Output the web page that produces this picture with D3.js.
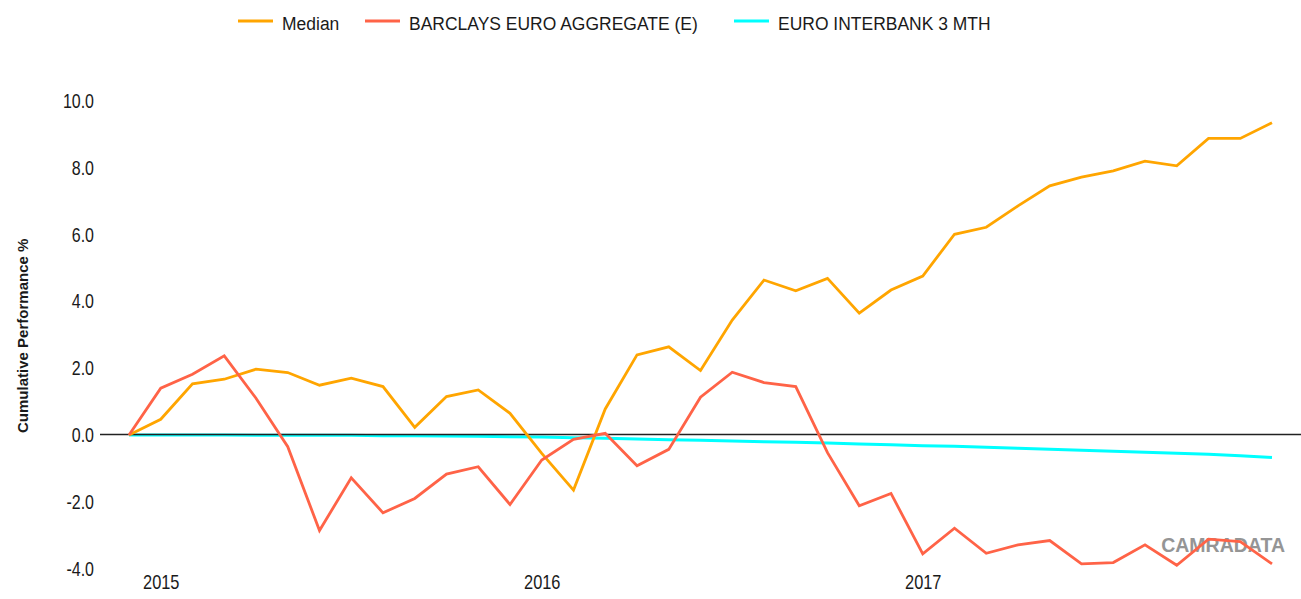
<!DOCTYPE html>
<html>
<head>
<meta charset="utf-8">
<script src="https://cdn.jsdelivr.net/npm/d3@7"></script>
<style>
  html, body { margin: 0; padding: 0; background: #fff; }
  svg { display: block; }
  text { font-family: "Liberation Sans", Arial, sans-serif; fill: #1a1a1a; }
</style>
</head>
<body>
<svg id="chart" width="1301" height="599"></svg>
<script>
// ---- data ----
const months = [
  "2014-12",
  "2015-01","2015-02","2015-03","2015-04","2015-05","2015-06","2015-07","2015-08","2015-09","2015-10","2015-11","2015-12",
  "2016-01","2016-02","2016-03","2016-04","2016-05","2016-06","2016-07","2016-08","2016-09","2016-10","2016-11","2016-12",
  "2017-01","2017-02","2017-03","2017-04","2017-05","2017-06","2017-07","2017-08","2017-09","2017-10","2017-11","2017-12"
];
const median = [
  0.00,
  0.47, 1.53, 1.67, 1.97, 1.87, 1.49, 1.70, 1.45, 0.23, 1.15, 1.35, 0.65,
  -0.55, -1.65, 0.78, 2.40, 2.64, 1.93, 3.44, 4.64, 4.32, 4.69, 3.65, 4.34,
  4.76, 6.01, 6.22, 6.86, 7.46, 7.72, 7.91, 8.20, 8.06, 8.88, 8.88, 9.35
];
const barclays = [
  0.00,
  1.40, 1.82, 2.37, 1.10, -0.35, -2.86, -1.28, -2.33, -1.90, -1.17, -0.95, -2.08,
  -0.75, -0.13, 0.05, -0.92, -0.43, 1.13, 1.88, 1.57, 1.45, -0.53, -2.12, -1.75,
  -3.56, -2.79, -3.54, -3.29, -3.16, -3.86, -3.82, -3.29, -3.90, -3.12, -3.19, -3.86
];
const euribor = [
  0.00,
  0.00, 0.00, 0.00, -0.01, -0.01, -0.01, -0.01, -0.02, -0.02, -0.03, -0.04, -0.05,
  -0.06, -0.08, -0.10, -0.12, -0.14, -0.16, -0.18, -0.20, -0.22, -0.24, -0.27, -0.29,
  -0.32, -0.34, -0.37, -0.40, -0.43, -0.46, -0.49, -0.52, -0.55, -0.58, -0.62, -0.67
];
const seriesNames = ["Median", "BARCLAYS EURO AGGREGATE (E)", "EURO INTERBANK 3 MTH"];
const seriesColors = ["#FFA500", "#FF6347", "#00FFFF"];
const yTicks = [-4, -2, 0, 2, 4, 6, 8, 10];
const xTickMonths = ["2015-01", "2016-01", "2017-01"];
const xTickLabels = ["2015", "2016", "2017"];
const yTitle = "Cumulative Performance %";
const watermark = "CAMRADATA";

// ---- layout ----
const svg = d3.select("#chart");
const plotLeft = 100, plotRight = 1301;
const x = d3.scalePoint().domain(months).range([129, 1272]);
const y = d3.scaleLinear().domain([-4, 10]).range([568.6, 101]);
const fmt = (d) => d3.format(".1f")(d).replace("\u2212", "-");

// watermark (behind lines)
svg.append("text")
  .attr("x", 1285).attr("y", 552)
  .attr("text-anchor", "end")
  .style("font-size", "19.5px").style("font-weight", "bold")
  .style("fill", "#8a8a8a").style("opacity", 0.9)
  .text(watermark);

// y axis labels
const yAxis = svg.append("g")
  .attr("transform", `translate(${plotLeft},0)`)
  .call(d3.axisLeft(y).tickValues(yTicks).tickFormat(fmt).tickSize(0));
yAxis.select(".domain").remove();
yAxis.selectAll("text")
  .attr("x", 0).attr("dy", null)
  .attr("dominant-baseline", "central")
  .attr("transform", "translate(-6,0) scale(0.82,1)")
  .style("font-size", "19.5px").style("font-family", "Liberation Sans, Arial, sans-serif")
  .style("fill", "#1a1a1a");

// x axis labels
const xAxis = svg.append("g")
  .attr("transform", `translate(0,${y(-4)})`)
  .call(d3.axisBottom(x).tickValues(xTickMonths)
        .tickFormat((d) => xTickLabels[xTickMonths.indexOf(d)]).tickSize(0));
xAxis.select(".domain").remove();
xAxis.selectAll("text")
  .attr("y", 0).attr("dy", null)
  .attr("dominant-baseline", "central")
  .attr("transform", "translate(0,13) scale(0.82,1)")
  .style("font-size", "20px").style("font-family", "Liberation Sans, Arial, sans-serif")
  .style("fill", "#1a1a1a");

// y title
svg.append("text")
  .attr("transform", `translate(28,${(y(-4) + y(10)) / 2 + 1}) rotate(-90) scale(0.97,1)`)
  .attr("text-anchor", "middle")
  .style("font-size", "15.5px").style("font-weight", "bold")
  .text(yTitle);

// lines
const line = d3.line().x((d, i) => x(months[i])).y((d) => y(d));
const allSeries = [median, barclays, euribor];
svg.append("path").datum(euribor)
  .attr("d", line).attr("fill", "none")
  .attr("stroke", seriesColors[2]).attr("stroke-width", 3);

const zy = Math.round(y(0)) - 0.5;
svg.append("line")
  .attr("x1", plotLeft).attr("x2", plotRight)
  .attr("y1", zy).attr("y2", zy)
  .attr("stroke", "#222").attr("stroke-width", 1.3);

[0, 1].forEach((k) => {
  svg.append("path").datum(allSeries[k])
    .attr("d", line).attr("fill", "none")
    .attr("stroke", seriesColors[k]).attr("stroke-width", 2.8)
    .attr("stroke-linejoin", "miter");
});

// legend
const legendX = [238, 365, 734];
const lg = svg.append("g");
seriesNames.forEach((name, k) => {
  const g = lg.append("g").attr("transform", `translate(${legendX[k]},21)`);
  g.append("line").attr("x1", 0).attr("x2", 35).attr("y1", 0).attr("y2", 0)
    .attr("stroke", seriesColors[k]).attr("stroke-width", 3);
  g.append("text")
    .attr("dominant-baseline", "central")
    .attr("transform", "translate(44,2) scale(0.92,1)")
    .style("font-size", "19px")
    .text(name);
});
</script>
</body>
</html>
